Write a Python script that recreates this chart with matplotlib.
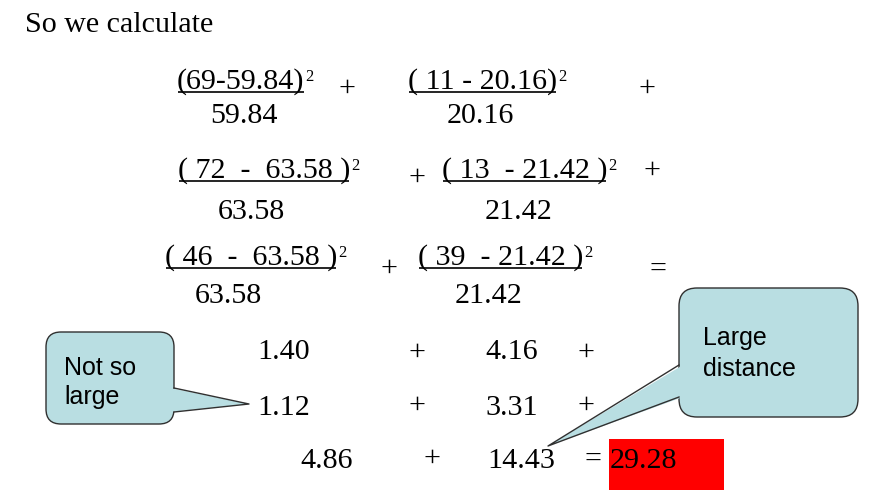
import matplotlib.pyplot as plt
from matplotlib.patches import FancyBboxPatch, Polygon, Rectangle

# chi-square worked example: observed vs expected counts
diff_labels = ['(69-59.84)', '( 11 - 20.16)',
               '( 72  -  63.58 )', '( 13  - 21.42 )',
               '( 46  -  63.58 )', '( 39  - 21.42 )']
expected = [59.84, 20.16, 63.58, 21.42, 63.58, 21.42]
terms_a = [1.40, 4.16]
terms_b = [1.12, 3.31]
column_sums = [4.86, 14.43]
chi_square = 29.28

# layout (pixels, origin top-left)
num_pos = [(177, 89), (408, 89), (178, 178), (442, 178), (165, 265), (418, 265)]
den_pos = [(210, 123), (447, 123), (218, 219), (485, 219), (195, 303), (455, 303)]
ops = [('+', 347, 96), ('+', 647, 96), ('+', 417, 185), ('+', 652, 178),
       ('+', 389, 276), ('=', 658, 277)]

SERIF = 'Liberation Serif'
SANS = 'Liberation Sans'
FS = 21.6
SUP = 12
BOX = '#b9dee2'
EDGE = '#303030'

fig = plt.figure(figsize=(8.78, 5.04), dpi=100)
ax = fig.add_axes([0, 0, 1, 1])
ax.set_xlim(0, 878)
ax.set_ylim(504, 0)
ax.axis('off')
renderer = fig.canvas.get_renderer()
inv = ax.transData.inverted()


def txt(x, y, s, **kw):
    kw.setdefault('family', SERIF)
    kw.setdefault('fontsize', FS)
    return ax.text(x, y, s, ha='left', va='baseline', **kw)


txt(25, 32, 'So we calculate')

# fractions
for label, (nx, ny), e, (dx, dy) in zip(diff_labels, num_pos, expected, den_pos):
    t = txt(nx, ny, label)
    bb = t.get_window_extent(renderer)
    (x0, _), (x1, _) = inv.transform([(bb.x0, 0), (bb.x1, 0)])
    txt(x1 + 1, ny - 8, '2', fontsize=SUP)
    ax.plot([x0 + 1, x1 - 1], [ny + 3, ny + 3], color='black', lw=1.2,
            solid_capstyle='butt')
    txt(dx, dy, f'{e:.2f}')

for s, x, y in ops:
    ax.text(x, y, s, family=SERIF, fontsize=FS, ha='center', va='baseline')

# individual terms
txt(257, 359, f'{terms_a[0]:.2f}')
txt(485, 359, f'{terms_a[1]:.2f}')
txt(257, 415, f'{terms_b[0]:.2f}')
txt(485, 415, f'{terms_b[1]:.2f}')
for y in (360, 413):
    ax.text(417, y, '+', family=SERIF, fontsize=FS, ha='center', va='baseline')
    ax.text(586, y, '+', family=SERIF, fontsize=FS, ha='center', va='baseline')

# sums
ax.add_patch(Rectangle((609, 439), 115, 51, facecolor='#ff0000', edgecolor='none'))
txt(300, 468, f'{column_sums[0]:.2f}')
txt(487, 468, f'{column_sums[1]:.2f}')
ax.text(432, 466, '+', family=SERIF, fontsize=FS, ha='center', va='baseline')
ax.text(593, 467, '=', family=SERIF, fontsize=FS, ha='center', va='baseline')
txt(610, 468, f'{chi_square:.2f}')


def callout(x, y, w, h, r, tail, lines, tx, ty, step):
    ax.add_patch(FancyBboxPatch((x, y), w, h,
                                boxstyle=f'round,pad=0,rounding_size={r}',
                                facecolor=BOX, edgecolor=EDGE, lw=1))
    a1, tip, a2, inset = tail
    ax.add_patch(Polygon([(a1[0] + inset, a1[1]), tip, (a2[0] + inset, a2[1])],
                         closed=True, facecolor=BOX, edgecolor='none'))
    ax.plot([a1[0], tip[0], a2[0]], [a1[1], tip[1], a2[1]], color=EDGE, lw=1)
    for i, s in enumerate(lines):
        ax.text(tx, ty + i * step, s, family=SANS, fontsize=18,
                ha='left', va='baseline')


callout(46, 332, 128, 92, 15, ((174, 388), (249, 404), (174, 412), -4),
        ['Not so', 'large'], 64, 375, 29)
callout(679, 288, 179, 129, 18, ((679, 365), (548, 446), (679, 397), 4),
        ['Large', 'distance'], 703, 345, 31)

fig.savefig('out.png', dpi=100)
